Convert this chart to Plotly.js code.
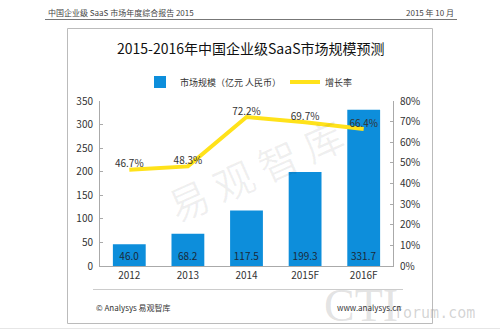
<!DOCTYPE html>
<html>
<head>
<meta charset="utf-8">
<script src="https://cdn.plot.ly/plotly-3.0.1.min.js"></script>
<style>html,body{margin:0;padding:0;background:#fff;}#chart{width:500px;height:333px;}</style>
</head>
<body>
<div id="chart"></div>
<script>
var categories = ["2012", "2013", "2014", "2015F", "2016F"];
var marketSize = [46.0, 68.2, 117.5, 199.3, 331.7];
var growthRate = [0.467, 0.483, 0.722, 0.697, 0.664];
var barLabels = ["46.0", "68.2", "117.5", "199.3", "331.7"];
var rateLabels = ["46.7%", "48.3%", "72.2%", "69.7%", "66.4%"];

var L = 100, R = 393, T = 101, B = 266;
function px(x){ return (x - L) / (R - L); }
function py(y){ return (B - y) / (B - T); }
var CJK = '"Noto Sans CJK SC", "Noto Sans", sans-serif';

var traces = [
  {
    type: 'bar', name: '市场规模（亿元 人民币）', x: categories, y: marketSize,
    marker: {color: '#0D8EDB'}, width: 0.56,
    text: barLabels, textposition: 'inside', insidetextanchor: 'start',
    textfont: {family: CJK, size: 10, color: '#1a2a3a'}, hoverinfo: 'skip'
  },
  {
    type: 'scatter', mode: 'lines+text', name: '增长率', x: categories, y: growthRate,
    yaxis: 'y2', line: {color: '#FFE21A', width: 4},
    text: rateLabels, textposition: 'top center',
    textfont: {family: CJK, size: 10, color: '#333'}, cliponaxis: false, hoverinfo: 'skip'
  }
];

var layout = {
  width: 500, height: 333,
  margin: {l: L, r: 500 - R, t: T, b: 333 - B, pad: 0},
  paper_bgcolor: '#fff', plot_bgcolor: 'rgba(0,0,0,0)',
  font: {family: CJK, size: 10, color: '#333'},
  showlegend: true,
  legend: {orientation: 'h', xref: 'container', yref: 'container', x: 140 / 500, xanchor: 'left',
           y: 1 - 82 / 333, yanchor: 'middle',
           entrywidth: 100, entrywidthmode: 'pixels', font: {size: 9, color: '#333', family: CJK},
           bgcolor: 'rgba(0,0,0,0)', itemwidth: 30, traceorder: 'normal'},
  xaxis: {type: 'category', showline: true, linecolor: '#aaa', linewidth: 1, ticks: '',
          tickfont: {size: 10, color: '#333'}, showgrid: false, zeroline: false, fixedrange: true},
  yaxis: {range: [0, 350], dtick: 50, showline: true, linecolor: '#aaa', ticks: 'inside', ticklen: 3,
          tickcolor: '#aaa', showgrid: false, zeroline: false, tickfont: {size: 10, color: '#333'},
          ticklabelstandoff: 4},
  yaxis2: {range: [0, 0.8], dtick: 0.1, tickformat: '.0%', overlaying: 'y', side: 'right',
           showline: true, linecolor: '#aaa', ticks: 'inside', ticklen: 3, tickcolor: '#aaa',
           showgrid: false, zeroline: false, tickfont: {size: 10, color: '#333'}, ticklabelstandoff: 4},
  shapes: [
    {type: 'line', xref: 'paper', yref: 'paper', x0: px(45), x1: px(457), y0: py(19.5), y1: py(19.5),
     line: {color: '#777', width: 1}},
    {type: 'rect', xref: 'paper', yref: 'paper', x0: px(67.5), x1: px(432.5), y0: py(28.5), y1: py(323.5),
     line: {color: '#bbb', width: 1}, layer: 'below'},
    {type: 'line', xref: 'paper', yref: 'paper', x0: px(93), x1: px(403), y0: py(289.5), y1: py(289.5),
     line: {color: '#ccc', width: 1}},
    {type: 'line', xref: 'paper', yref: 'paper', x0: px(0), x1: px(500), y0: py(328.5), y1: py(328.5),
     line: {color: '#e6e6e6', width: 1}}
  ],
  annotations: [
    {xref: 'paper', yref: 'paper', x: px(46), y: py(13), xanchor: 'left', yanchor: 'middle', showarrow: false,
     text: '中国企业级 SaaS 市场年度综合报告 2015', font: {family: CJK, size: 8, color: '#444'}},
    {xref: 'paper', yref: 'paper', x: px(456), y: py(13), xanchor: 'right', yanchor: 'middle', showarrow: false,
     text: '2015 年 10 月', font: {family: CJK, size: 8, color: '#444'}},
    {xref: 'paper', yref: 'paper', x: px(250), y: py(48), xanchor: 'center', yanchor: 'middle', showarrow: false,
     text: '2015-2016年中国企业级SaaS市场规模预测', font: {family: CJK, size: 14, color: '#111'}},
    {xref: 'paper', yref: 'paper', x: px(255), y: py(170), xanchor: 'center', yanchor: 'middle', showarrow: false,
     text: '易 观 智 库', textangle: -24, font: {family: CJK, size: 40, color: 'rgba(0,0,0,0.06)'}},
    {xref: 'paper', yref: 'paper', x: px(94), y: py(307), xanchor: 'left', yanchor: 'middle', showarrow: false,
     text: '© Analysys 易观智库', font: {family: CJK, size: 8, color: '#333'}},
    {xref: 'paper', yref: 'paper', x: px(322), y: py(305), xanchor: 'left', yanchor: 'middle', showarrow: false,
     text: 'CTI', font: {family: '"Liberation Serif", serif', size: 46, color: 'rgba(160,160,160,0.3)'}},
    {xref: 'paper', yref: 'paper', x: px(392), y: py(313), xanchor: 'left', yanchor: 'middle', showarrow: false,
     text: 'forum.com', font: {family: '"DejaVu Sans Mono", monospace', size: 15, color: 'rgba(160,160,160,0.45)'}},
    {xref: 'paper', yref: 'paper', x: px(403), y: py(307), xanchor: 'right', yanchor: 'middle', showarrow: false,
     text: 'www.analysys.cn', font: {family: CJK, size: 8, color: '#333'}}
  ]
};

Plotly.newPlot('chart', traces, layout, {displayModeBar: false, staticPlot: true});
</script>
</body>
</html>
